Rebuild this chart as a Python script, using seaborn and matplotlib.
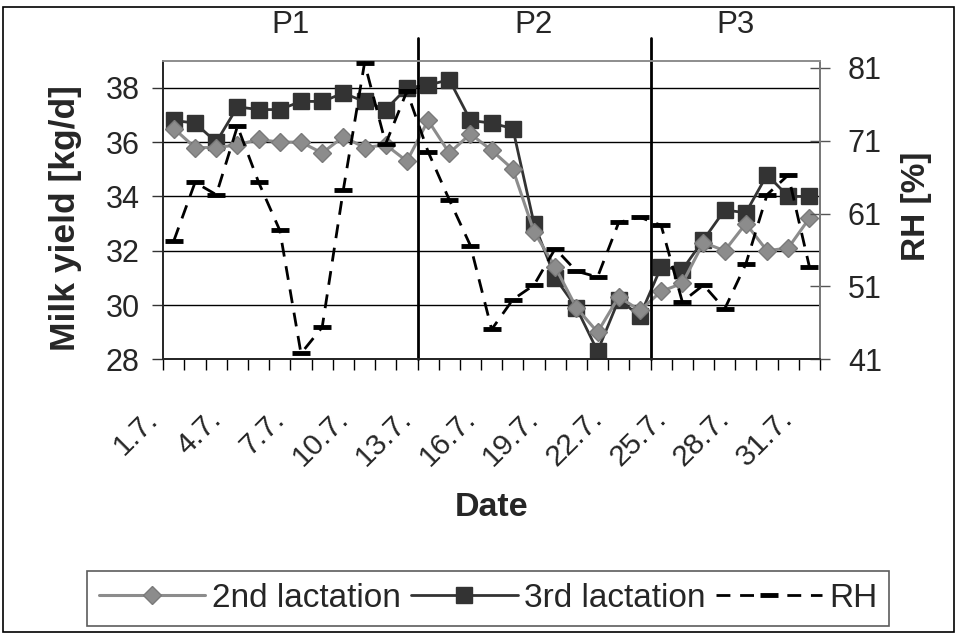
import numpy as np
import pandas as pd
import matplotlib
matplotlib.use('Agg')
import matplotlib.pyplot as plt
import matplotlib.transforms as mtransforms
from matplotlib.patches import Rectangle
import seaborn as sns

#%% data (July, one value per day)
days = list(range(1, 32))
lact2 = [36.5, 35.8, 35.8, 35.9, 36.1, 36.0, 36.0, 35.6, 36.2, 35.8, 35.9, 35.3,
         36.8, 35.6, 36.3, 35.7, 35.0, 32.7, 31.4, 29.9, 29.0, 30.3, 29.8,
         30.5, 30.8, 32.3, 32.0, 33.0, 32.0, 32.1, 33.2]
lact3 = [36.8, 36.7, 36.0, 37.3, 37.2, 37.2, 37.5, 37.5, 37.8, 37.5, 37.2, 38.0,
         38.1, 38.3, 36.8, 36.7, 36.5, 33.0, 31.0, 29.9, 28.3, 30.2, 29.6,
         31.4, 31.3, 32.4, 33.5, 33.4, 34.8, 34.0, 34.0]
rh = [57.3, 65.3, 63.6, 73.0, 65.3, 58.7, 41.8, 45.4, 64.3, 81.7, 70.6, 77.8,
      69.5, 62.9, 56.6, 45.1, 49.2, 51.2, 56.2, 53.1, 52.3, 59.8, 60.5,
      59.4, 48.9, 51.2, 47.9, 54.1, 63.6, 66.3, 53.7]
label_days = [1, 4, 7, 10, 13, 16, 19, 22, 25, 28, 31]
period_names = ['P1', 'P2', 'P3']
period_bounds = [0, 12, 23, 31]   # day boundaries of the periods

df = pd.DataFrame({'day': days, 'lact2': lact2, 'lact3': lact3, 'rh': rh})
df['xpos'] = df['day'] - 0.5  # category centre

#%% style
sns.set_style('white')
plt.rcParams['font.family'] = ['Liberation Sans', 'DejaVu Sans']

fig = plt.figure(figsize=(9.57, 6.35), dpi=100)
ax = fig.add_axes([163.3/957, 1-359.3/635, 656.7/957, 298.6/635])
ax2 = ax.twinx()

c2 = '#8c8c8c'
c3 = '#333333'

sns.lineplot(data=df, x='xpos', y='lact2', ax=ax, color=c2, linewidth=2.2,
             marker='D', markersize=9.5, markerfacecolor=c2, markeredgecolor='#7a7a7a',
             markeredgewidth=1, label='2nd lactation', zorder=4)
sns.lineplot(data=df, x='xpos', y='lact3', ax=ax, color=c3, linewidth=2,
             marker='s', markersize=11, markerfacecolor=c3, markeredgecolor=c3,
             markeredgewidth=1, label='3rd lactation', zorder=3)
sns.lineplot(data=df, x='xpos', y='rh', ax=ax2, color='black', linewidth=2,
             linestyle=(0, (5, 3.5)), marker='_', markersize=13, markeredgewidth=3.5,
             markeredgecolor='black', label='RH', zorder=5)

# left axis
ax.set_xlim(0, 31)
ax.set_ylim(28, 39)
ax.set_yticks([28, 30, 32, 34, 36, 38])
ax.tick_params(axis='y', direction='out', length=8, width=1, pad=9,
               labelsize=22, color='#333333', left=True)
for y in [30, 32, 34, 36, 38]:
    ax.axhline(y, color='black', lw=1, zorder=1)

# right axis
ax2.set_ylim(41, 82)
ax2.set_yticks([41, 51, 61, 71, 81])
ax2.tick_params(axis='y', direction='inout', length=14, width=1, pad=13,
                labelsize=22, color='#555555', right=True)

# x axis: ticks between categories, labels every 3rd day
ax.set_xticks(range(0, 32), minor=True)
ax.set_xticks([d - 0.5 for d in label_days])
ax.set_xticklabels(['%d.7.' % d for d in label_days])
ax.tick_params(axis='x', which='minor', direction='out', length=8, width=1, color='black', bottom=True)
ax.tick_params(axis='x', which='major', length=0, pad=0, labelsize=21.5)
offset = mtransforms.ScaledTranslation(-15/100, -61/100, fig.dpi_scale_trans)
for lab in ax.get_xticklabels():
    lab.set_rotation(45)
    lab.set_ha('right')
    lab.set_va('baseline')
    lab.set_rotation_mode('anchor')
    lab.set_transform(lab.get_transform() + offset)

ax.set_xlabel('')
ax.set_ylabel('')
ax2.set_ylabel('')
for a in (ax, ax2):
    for s in a.spines.values():
        s.set_linewidth(1.3)
ax.spines['left'].set_color('#444444')
ax.spines['bottom'].set_color('#222222')
ax.spines['top'].set_color('#909090')
ax2.spines['right'].set_color('#808080')
ax2.spines['top'].set_color('#909090')
ax.set_zorder(ax2.get_zorder() - 1)
ax2.patch.set_visible(False)

# period separators and names
for b in period_bounds[1:-1]:
    ax.plot([b, b], [0, 1.076], transform=ax.get_xaxis_transform(), color='black',
            lw=2, clip_on=False, zorder=6)
for name, lo, hi in zip(period_names, period_bounds[:-1], period_bounds[1:]):
    ax.text((lo + hi) / 2, 1.118, name, transform=ax.get_xaxis_transform(),
            ha='center', va='center', fontsize=22.5)

fig.text(66/957, 1-218/635, 'Milk yield [kg/d]', rotation=90, ha='center', va='center',
         fontsize=25.5, fontweight='bold')
fig.text(916/957, 1-206/635, 'RH [%]', rotation=90, ha='center', va='center',
         fontsize=24, fontweight='bold')
fig.text(492/957, 1-507/635, 'Date', ha='center', va='center', fontsize=24.5, fontweight='bold')

# legend under the chart
h1, l1 = ax.get_legend_handles_labels()
h2, l2 = ax2.get_legend_handles_labels()
for a in (ax, ax2):
    if a.get_legend() is not None:
        a.get_legend().remove()
leg = fig.legend(h1 + h2, l1 + l2, loc='center', bbox_to_anchor=(488/957, 1-598.5/635),
                 ncol=3, frameon=True, fancybox=False, fontsize=24, handlelength=3.2,
                 handletextpad=0.2, columnspacing=0.3, borderpad=0.35, borderaxespad=0)
leg.get_frame().set_edgecolor('#333333')
leg.get_frame().set_linewidth(1.2)

# outer chart border
fig.patches.append(Rectangle((3/957, 3/635), 951/957, 625/635, transform=fig.transFigure,
                             fill=False, edgecolor='black', lw=1.2))

fig.savefig('out.png', dpi=100)
